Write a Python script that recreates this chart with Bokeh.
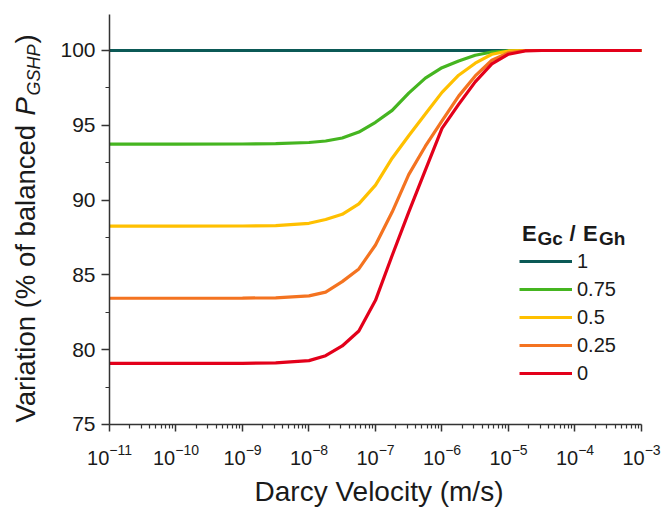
import math
from bokeh.plotting import figure
from bokeh.models import (Range1d, FixedTicker, LogTickFormatter, Label, Legend, LegendItem)
from bokeh.embed import file_html
from bokeh.resources import INLINE

# Darcy velocity sample points (m/s)
darcy_velocity = [1e-11, 1e-10, 1e-9, 3.16e-9, 1e-8, 1.78e-8, 3.16e-8, 5.62e-8, 1e-7, 1.78e-7,
                  3.16e-7, 5.62e-7, 1e-6, 1.78e-6, 3.16e-6, 5.62e-6, 1e-5, 1.78e-5, 3.16e-5,
                  1e-4, 1e-3]

# Variation (% of balanced P_GSHP) for each E_Gc / E_Gh ratio
ratio_1 = [100, 100, 100, 100, 100, 100, 100, 100, 100, 100, 100,
           100, 100, 100, 100, 100, 100, 100, 100, 100, 100]
ratio_075 = [93.74, 93.74, 93.75, 93.78, 93.85, 93.95, 94.15, 94.55, 95.2, 96.0, 97.15,
             98.15, 98.85, 99.3, 99.68, 99.9, 99.98, 100, 100, 100, 100]
ratio_05 = [88.26, 88.26, 88.27, 88.3, 88.45, 88.7, 89.05, 89.75, 91.0, 92.8, 94.3,
            95.75, 97.2, 98.35, 99.15, 99.75, 99.97, 100, 100, 100, 100]
ratio_025 = [83.44, 83.44, 83.45, 83.47, 83.6, 83.85, 84.55, 85.4, 87.0, 89.2, 91.7,
             93.6, 95.3, 96.95, 98.3, 99.35, 99.85, 100, 100, 100, 100]
ratio_0 = [79.08, 79.08, 79.09, 79.12, 79.27, 79.6, 80.25, 81.25, 83.3, 86.3, 89.2,
           92.0, 94.8, 96.4, 97.9, 99.1, 99.75, 99.97, 100, 100, 100]

series_labels = ["1", "0.75", "0.5", "0.25", "0"]
series_values = [ratio_1, ratio_075, ratio_05, ratio_025, ratio_0]
series_colors = ["#0b5956", "#45b520", "#ffc000", "#f47320", "#e3001a"]

x_major = [1e-11, 1e-10, 1e-9, 1e-8, 1e-7, 1e-6, 1e-5, 1e-4, 1e-3]
y_major = [75, 80, 85, 90, 95, 100]
y_minor = [77.5, 82.5, 87.5, 92.5, 97.5]

FONT = "Liberation Sans"
TXT = "#1a1a1a"

# frame fills the whole canvas; axes are drawn at fixed locations inside it
p = figure(width=667, height=508, x_axis_type="log",
           x_range=Range1d(10 ** -12.639, 10 ** -2.609), y_range=Range1d(69.385, 103.342),
           output_backend="svg", toolbar_location=None, title=None,
           min_border_left=0, min_border_right=0, min_border_top=0, min_border_bottom=0)
p.outline_line_color = None
p.xgrid.visible = False
p.ygrid.visible = False
p.background_fill_color = "white"
p.border_fill_color = "white"

items = []
for lab, vals, col in zip(series_labels, series_values, series_colors):
    r = p.line(darcy_velocity, vals, line_color=col, line_width=3.2)
    items.append(LegendItem(label=lab, renderers=[r]))

# axes
xa = p.xaxis[0]
xa.fixed_location = 75
xa.bounds = (1e-11, 1e-3)
xa.ticker = FixedTicker(ticks=x_major,
                        minor_ticks=[k * t for t in x_major[:-1] for k in range(2, 10)])
xa.formatter = LogTickFormatter()
ya = p.yaxis[0]
ya.fixed_location = 1e-11
ya.bounds = (75, 102.4)
ya.ticker = FixedTicker(ticks=y_major, minor_ticks=y_minor)
for ax in (xa, ya):
    ax.axis_line_color = "#333333"
    ax.axis_line_width = 1.5
    ax.major_tick_line_color = "#333333"
    ax.minor_tick_line_color = "#333333"
    ax.major_tick_line_width = 1.5
    ax.minor_tick_line_width = 1.2
    ax.major_tick_in = 0
    ax.minor_tick_in = 0
    ax.major_label_text_font = FONT
    ax.major_label_text_color = TXT
xa.major_tick_out = 7
xa.minor_tick_out = 4
xa.major_label_standoff = 13
xa.major_label_text_font_size = "20px"
ya.major_tick_out = 8
ya.minor_tick_out = 4
ya.major_label_standoff = 6
ya.major_label_text_font_size = "21px"

# x axis label
p.add_layout(Label(x=378.5, y=17, x_units="screen", y_units="screen",
                   text="Darcy Velocity (m/s)", text_align="center", text_baseline="alphabetic",
                   text_font=FONT, text_font_size="28px", text_color=TXT))

# y axis label (rotated, composed for italic P and subscript)
ang = math.pi / 2
bx = 25
p.add_layout(Label(x=bx, y=86, x_units="screen", y_units="screen", angle=ang,
                   text="Variation (% of balanced", text_align="left", text_baseline="alphabetic",
                   text_font=FONT, text_font_size="27.5px", text_color=TXT))
p.add_layout(Label(x=bx, y=393, x_units="screen", y_units="screen", angle=ang,
                   text="P", text_align="left", text_baseline="alphabetic",
                   text_font=FONT, text_font_style="italic", text_font_size="27.5px", text_color=TXT))
p.add_layout(Label(x=bx + 8, y=413, x_units="screen", y_units="screen", angle=ang,
                   text="GSHP", text_align="left", text_baseline="alphabetic",
                   text_font=FONT, text_font_style="italic", text_font_size="18px", text_color=TXT))
p.add_layout(Label(x=bx, y=465, x_units="screen", y_units="screen", angle=ang,
                   text=")", text_align="left", text_baseline="alphabetic",
                   text_font=FONT, text_font_size="27.5px", text_color=TXT))

# legend
legend = Legend(items=items, location=(519, 121), glyph_width=53, glyph_height=28,
                label_height=28, spacing=0, padding=0, margin=0, label_standoff=5,
                border_line_alpha=0, background_fill_alpha=0,
                label_text_font=FONT, label_text_font_size="20px", label_text_color=TXT)
p.add_layout(legend)

# legend title E_Gc / E_Gh
def title_piece(x, y, text, size):
    p.add_layout(Label(x=x, y=y, x_units="screen", y_units="screen", text=text,
                       text_align="left", text_baseline="alphabetic", text_font=FONT,
                       text_font_style="bold", text_font_size=size, text_color=TXT))

title_piece(521.5, 275, "E", "22px")
title_piece(537, 270, "Gc", "19px")
title_piece(569, 275, "/", "22px")
title_piece(582.5, 275, "E", "22px")
title_piece(598.5, 270, "Gh", "19px")

open("out.html", "w").write(file_html(p, INLINE))
